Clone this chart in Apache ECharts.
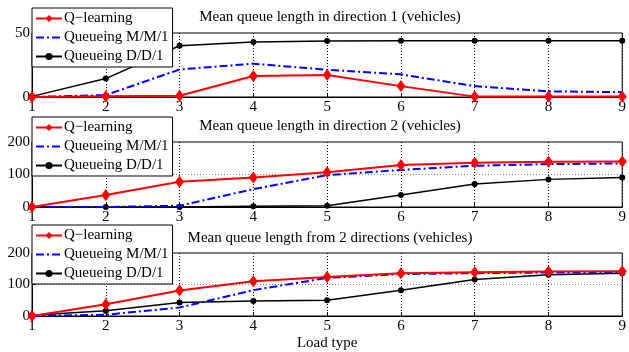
<!DOCTYPE html>
<html><head><meta charset="utf-8">
<script src="https://cdn.jsdelivr.net/npm/echarts@6/dist/echarts.min.js"></script>
<style>html,body{margin:0;padding:0;background:#fff}#c{width:629px;height:352px}</style>
</head><body><div id="c"></div>
<script>
var loadTypes = [1, 2, 3, 4, 5, 6, 7, 8, 9];
var seriesNames = ['Q\u2212learning', 'Queueing M/M/1', 'Queueing D/D/1'];
var panelTitles = ['Mean queue length in direction 1 (vehicles)', 'Mean queue length in direction 2 (vehicles)', 'Mean queue length from 2 directions (vehicles)'];
var yMax = [50, 200, 200];
var yInterval = [50, 100, 100];
// Direction 1
var qDir1   = [0, 0.5, 1, 16.4, 17.2, 8.5, 0.3, 0.3, 0.3];
var mm1Dir1 = [0, 1.5, 21.5, 26, 21.3, 17.7, 8.5, 4.4, 3.8];
var dd1Dir1 = [0.5, 14.4, 40, 43, 43.8, 44, 44, 44, 44];
// Direction 2
var qDir2   = [0, 37, 78, 91, 107, 129, 136, 139, 140];
var mm1Dir2 = [0, 0, 4, 55, 98, 114, 127, 132, 134];
var dd1Dir2 = [0, 0, 0, 2, 4, 37, 71, 85, 91];
// Both directions
var qBoth   = [0, 37.5, 81, 110, 124, 136, 139, 141, 142];
var mm1Both = [0, 4, 27, 82, 121, 133, 136, 138, 139];
var dd1Both = [2, 17, 43, 48, 50, 82, 116, 131, 136];

var panels = [[qDir1, mm1Dir1, dd1Dir1], [qDir2, mm1Dir2, dd1Dir2], [qBoth, mm1Both, dd1Both]];
var gridTops = [33, 142, 253];
var gridHeights = [64, 65, 64];
var legendTops = [8, 117, 225];
var titleTops = [10, 119, 231];
var FONT = 'Liberation Serif';

function pairs(arr) { return loadTypes.map(function (x, i) { return [x, arr[i]]; }); }

var styles = [
  { color: '#ff0000', lineStyle: { color: '#ff0000', width: 2, type: 'solid' }, symbol: 'diamond', symbolSize: [9, 12] },
  { color: '#0000ff', lineStyle: { color: '#0000ff', width: 2, type: [8, 3, 2, 3] }, symbol: 'none', symbolSize: 0 },
  { color: '#000000', lineStyle: { color: '#000000', width: 1.5, type: 'solid' }, symbol: 'circle', symbolSize: 6 }
];

var legendData = [
  { name: seriesNames[0] },
  { name: seriesNames[1], itemStyle: { opacity: 0 } },
  { name: seriesNames[2] }
];

var grids = [], xAxes = [], yAxes = [], series = [], legends = [], titles = [];
for (var p = 0; p < 3; p++) {
  grids.push({ left: 32, right: 2, top: gridTops[p], height: gridHeights[p], show: true, borderColor: '#000', borderWidth: 1, backgroundColor: 'transparent' });
  xAxes.push({
    type: 'value', gridIndex: p, min: 1, max: 9, interval: 1,
    axisLine: { lineStyle: { color: '#000', width: 1 } },
    axisTick: { inside: true, length: 4, lineStyle: { color: '#000' } },
    axisLabel: { color: '#000', fontFamily: FONT, fontSize: 15, margin: 3 },
    splitLine: { show: true, lineStyle: { color: '#000', type: [1, 2], width: 1 } },
    name: p === 2 ? 'Load type' : '', nameLocation: 'middle', nameGap: 20,
    nameTextStyle: { color: '#000', fontFamily: FONT, fontSize: 15 }
  });
  yAxes.push({
    type: 'value', gridIndex: p, min: 0, max: yMax[p], interval: yInterval[p],
    axisLine: { show: true, lineStyle: { color: '#000', width: 1 } },
    axisTick: { show: true, inside: true, length: 4, lineStyle: { color: '#000' } },
    axisLabel: { color: '#000', fontFamily: FONT, fontSize: 15, margin: 2 },
    splitLine: { show: p > 0, lineStyle: { color: '#888', type: [1, 2], width: 1 } }
  });
  for (var s = 0; s < 3; s++) {
    series.push({
      type: 'line', name: seriesNames[s], xAxisIndex: p, yAxisIndex: p,
      data: pairs(panels[p][s]),
      color: styles[s].color, lineStyle: styles[s].lineStyle,
      symbol: styles[s].symbol, symbolSize: styles[s].symbolSize,
      showSymbol: styles[s].symbol !== 'none',
      itemStyle: { color: styles[s].color },
      clip: false, animation: false, z: 3 - s + 2
    });
  }
  legends.push({
    data: legendData, orient: 'vertical', left: 32, top: legendTops[p],
    width: 140, padding: [3, 4, 3, 3], itemGap: 4, itemWidth: 26, itemHeight: 9,
    backgroundColor: '#fff', borderColor: '#000', borderWidth: 1, borderRadius: 0,
    textStyle: { color: '#000', fontFamily: FONT, fontSize: 15, padding: [0, 0, 0, -3] },
    selectedMode: false, z: 10
  });
  titles.push({ text: panelTitles[p], left: 330, textAlign: 'center', top: titleTops[p], padding: 0,
    textStyle: { color: '#000', fontFamily: FONT, fontSize: 15, fontWeight: 'normal' } });
}

var chart = echarts.init(document.getElementById('c'), null, { renderer: 'canvas' });
chart.setOption({
  backgroundColor: '#fff', animation: false,
  title: titles, legend: legends, grid: grids, xAxis: xAxes, yAxis: yAxes, series: series
});
</script></body></html>
